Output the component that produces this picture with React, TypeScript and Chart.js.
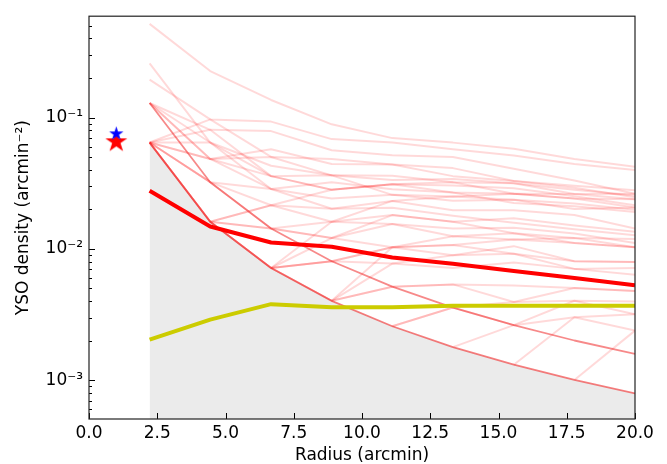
import React, { useEffect, useRef } from "react";
import { Chart, registerables } from "chart.js";

Chart.register(...registerables);

// ---------- data ----------
const radii = [2.22, 4.44, 6.67, 8.89, 11.11, 13.33, 15.56, 17.78, 20.0];

// individual cluster cumulative density profiles (arcmin^-2)
const clusterProfiles: (number | null)[][] = [
  [0.516, 0.2257, 0.136, 0.0887, 0.0697, 0.0644, 0.0579, 0.0483, 0.0422],
  [0.258, 0.0645, 0.0286, 0.0242, 0.0258, 0.0251, 0.0263, 0.0262, 0.0263],
  [0.194, 0.0967, 0.0931, 0.0685, 0.0645, 0.0573, 0.0513, 0.0443, 0.0398],
  [0.129, 0.0806, 0.0788, 0.0564, 0.0516, 0.0501, 0.0408, 0.0332, 0.0263],
  [0.129, 0.0484, 0.0573, 0.0443, 0.0439, 0.0412, 0.0329, 0.0292, 0.0247],
  [0.0645, 0.0967, 0.0501, 0.0363, 0.0361, 0.0322, 0.0316, 0.0262, 0.0239],
  [0.0645, 0.0806, 0.0358, 0.0282, 0.031, 0.0269, 0.0263, 0.0242, 0.0207],
  [0.0645, 0.0645, 0.0358, 0.0363, 0.0258, 0.0233, 0.0237, 0.0201, 0.0207],
  [0.0645, 0.0484, 0.0286, 0.0202, 0.0232, 0.0197, 0.0197, 0.0181, 0.0143],
  [0.0645, 0.0322, 0.0215, 0.0161, 0.0181, 0.0161, 0.0171, 0.0151, 0.0135],
  [0.0645, 0.0322, 0.0143, 0.0121, 0.0155, 0.0125, 0.01315, 0.0121, 0.0119],
  [0.0645, 0.01612, 0.0143, 0.0121, 0.0103, 0.0107, 0.0118, 0.0111, 0.0103],
  [0.0645, 0.01612, 0.00716, 0.00806, 0.0103, 0.00895, 0.0105, 0.00806, 0.00796],
  [0.0645, 0.01612, 0.00716, 0.00806, 0.00774, 0.00895, 0.0092, 0.00705, 0.00716],
  [0.0645, 0.01612, 0.00716, 0.00403, 0.00516, 0.00537, 0.00526, 0.00504, 0.00478],
  [0.129, 0.0484, 0.0358, 0.0282, 0.031, 0.0304, 0.0289, 0.0252, 0.0215],
  [0.0645, 0.0322, 0.0286, 0.0322, 0.0284, 0.0269, 0.0224, 0.0211, 0.0191],
  [0.0645, 0.0484, 0.0501, 0.0484, 0.0439, 0.0358, 0.0329, 0.0302, 0.0279],
  [0.129, 0.0645, 0.0429, 0.0363, 0.0335, 0.034, 0.0316, 0.0282, 0.0255],
  [null, 0.01612, 0.0215, 0.0202, 0.0206, 0.0179, 0.0158, 0.0141, 0.0127],
  [null, 0.01612, 0.0143, 0.0161, 0.0155, 0.0143, 0.0145, 0.0131, 0.0111],
  [null, 0.01612, 0.0215, 0.0282, 0.031, 0.0322, 0.0263, 0.0242, 0.0239],
  [null, null, 0.00716, 0.0161, 0.0232, 0.0251, 0.0237, 0.0222, 0.0199],
  [null, null, 0.00716, 0.0121, 0.0181, 0.0161, 0.01315, 0.0111, 0.0103],
  [null, null, 0.00716, 0.00806, 0.0103, 0.0125, 0.0118, 0.0121, 0.0103],
  [null, null, 0.00716, 0.00403, 0.00774, 0.00716, 0.00789, 0.00705, 0.00637],
  [null, null, null, 0.00403, 0.0103, 0.0107, 0.0092, 0.00806, 0.00796],
  [null, null, null, 0.00403, 0.00516, 0.00537, 0.00395, 0.00504, 0.00478],
  [null, null, null, null, 0.00258, 0.00358, 0.00263, 0.00403, 0.00398],
  [null, null, null, null, 0.00258, 0.00358, 0.00395, 0.00403, 0.00318],
  [null, null, null, null, null, 0.00179, 0.00263, 0.00302, 0.00318],
  [null, null, null, null, null, null, 0.001315, 0.00302, 0.00239],
  [null, null, null, null, null, null, null, 0.001007, 0.00239],
];

// one-YSO and two-YSO limits
const oneYso = [0.0645, 0.01612, 0.00716, 0.00403, 0.00258, 0.00179, 0.001315, 0.001007, 0.000796];
const twoYso = [0.129, 0.0322, 0.0143, 0.00806, 0.00516, 0.00358, 0.00263, 0.00201, 0.00159];

// median profile (thick red) and field level (yellow)
const medianProfile = [0.0277, 0.0148, 0.0112, 0.0104, 0.0086, 0.0077, 0.0068, 0.006, 0.0053];
const fieldProfile = [0.00204, 0.0029, 0.0038, 0.0036, 0.0036, 0.0037, 0.0037, 0.0037, 0.0037];

// star markers
const blueStar = { x: 1.0, y: 0.0752 };
const redStar = { x: 1.0, y: 0.0653 };

const xTickStep = 2.5;
const yMajorValues = [1e-3, 1e-2, 1e-1];
const yMajorLabels = ["10\u207B\u00B3", "10\u207B\u00B2", "10\u207B\u00B9"];
const xTitle = "Radius (arcmin)";
const yTitle = "YSO density (arcmin\u207B\u00B2)";

const FONT = "'DejaVu Sans', sans-serif";

function makeStar(R: number, color: string) {
  const s = Math.ceil(R * 2 + 2);
  const c = document.createElement("canvas");
  c.width = s;
  c.height = s;
  const g = c.getContext("2d")!;
  g.translate(s / 2, s / 2);
  g.beginPath();
  for (let i = 0; i < 10; i++) {
    const r = i % 2 === 0 ? R : R * 0.382;
    const a = -Math.PI / 2 + (i * Math.PI) / 5;
    g.lineTo(r * Math.cos(a), r * Math.sin(a));
  }
  g.closePath();
  g.fillStyle = color;
  g.fill();
  return c;
}

const ticksPlugin = {
  id: "mplTicks",
  afterDraw(chart: any) {
    const { ctx, chartArea } = chart;
    const { left, right, top, bottom } = chartArea;
    const xs = chart.scales.x;
    const ys = chart.scales.y;
    ctx.save();
    ctx.strokeStyle = "#000";
    ctx.lineWidth = 1;
    ctx.beginPath();
    xs.ticks.forEach((t: any) => {
      const px = Math.round(xs.getPixelForValue(t.value)) + 0.5;
      ctx.moveTo(px, bottom);
      ctx.lineTo(px, bottom - 6);
    });
    yMajorValues.forEach((v) => {
      const py = Math.round(ys.getPixelForValue(v)) + 0.5;
      ctx.moveTo(left, py);
      ctx.lineTo(left + 6, py);
    });
    for (let d = -4; d <= 0; d++) {
      for (let m = 2; m <= 9; m++) {
        const v = m * Math.pow(10, d);
        if (v < ys.min || v > ys.max) continue;
        const py = Math.round(ys.getPixelForValue(v)) + 0.5;
        ctx.moveTo(left, py);
        ctx.lineTo(left + 3, py);
      }
    }
    ctx.stroke();
    ctx.strokeStyle = "#222";
    ctx.lineWidth = 1.2;
    ctx.strokeRect(left, top, right - left, bottom - top);
    ctx.restore();
  },
};

export default function App() {
  const ref = useRef<HTMLCanvasElement>(null);
  useEffect(() => {
    const toPts = (arr: (number | null)[]) => radii.map((r, i) => ({ x: r, y: arr[i] }));
    const faint = clusterProfiles.map((p) => ({
      data: toPts(p),
      borderColor: "rgba(255,0,0,0.15)",
      borderWidth: 2,
      pointRadius: 0,
      fill: false,
      order: 5,
    }));
    const datasets: any[] = [
      {
        data: [blueStar],
        showLine: false,
        pointStyle: makeStar(7.5, "#0000ff"),
        pointRadius: 8,
        order: 0,
      },
      {
        data: [redStar],
        showLine: false,
        pointStyle: makeStar(11.5, "#ff0000"),
        pointRadius: 12,
        order: 1,
      },
      {
        data: toPts(fieldProfile),
        borderColor: "#cccc00",
        borderWidth: 4,
        pointRadius: 0,
        fill: false,
        order: 2,
      },
      {
        data: toPts(medianProfile),
        borderColor: "#ff0000",
        borderWidth: 4,
        pointRadius: 0,
        fill: false,
        order: 3,
      },
      {
        data: toPts(oneYso),
        borderColor: "rgba(240,40,40,0.6)",
        borderWidth: 1.8,
        pointRadius: 0,
        fill: "start",
        backgroundColor: "#ebebeb",
        order: 4,
      },
      {
        data: toPts(twoYso),
        borderColor: "rgba(240,40,40,0.55)",
        borderWidth: 1.8,
        pointRadius: 0,
        fill: false,
        order: 4,
      },
      ...faint,
    ];
    const font = { family: FONT, size: 17 };
    const titleFont = { family: FONT, size: 17, lineHeight: 1.0 };
    const chart = new Chart(ref.current!, {
      type: "line",
      data: { datasets },
      options: {
        responsive: false,
        maintainAspectRatio: false,
        animation: false,
        layout: { padding: { left: 0, right: 32, top: 13, bottom: 0 } },
        elements: { line: { tension: 0, borderJoinStyle: "round" } },
        plugins: {
          legend: { display: false },
          tooltip: { enabled: false },
          filler: { drawTime: "beforeDatasetsDraw" },
        } as any,
        scales: {
          x: {
            type: "linear",
            min: 0,
            max: 20,
            grid: { display: false, drawTicks: false },
            border: { display: false },
            ticks: {
              stepSize: xTickStep,
              color: "#000",
              font,
              padding: 4,
              maxRotation: 0,
              callback: (v: any) => Number(v).toFixed(1),
            },
            title: { display: true, text: xTitle, color: "#000", font: titleFont, padding: { top: 0, bottom: 0 } },
            afterFit: (s: any) => {
              s.height = 45;
            },
          },
          y: {
            type: "logarithmic",
            min: 5.08e-4,
            max: 0.59,
            grid: { display: false, drawTicks: false },
            border: { display: false },
            afterBuildTicks: (s: any) => {
              s.ticks = yMajorValues.map((v) => ({ value: v, major: true }));
            },
            ticks: {
              color: "#000",
              font,
              padding: 6,
              autoSkip: false,
              callback: (v: any) => {
                const i = yMajorValues.findIndex((m) => Math.abs(m - Number(v)) / m < 1e-6);
                return i >= 0 ? yMajorLabels[i] : "";
              },
            },
            title: { display: true, text: yTitle, color: "#000", font: titleFont, padding: { top: 15, bottom: 0 } },
            afterFit: (s: any) => {
              s.width = 89;
            },
          },
        },
      },
      plugins: [ticksPlugin],
    });
    return () => chart.destroy();
  }, []);
  return (
    <div style={{ position: "absolute", left: 0, top: 0, width: 667, height: 464, background: "#fff" }}>
      <canvas ref={ref} width={667} height={464} style={{ display: "block" }} />
    </div>
  );
}
